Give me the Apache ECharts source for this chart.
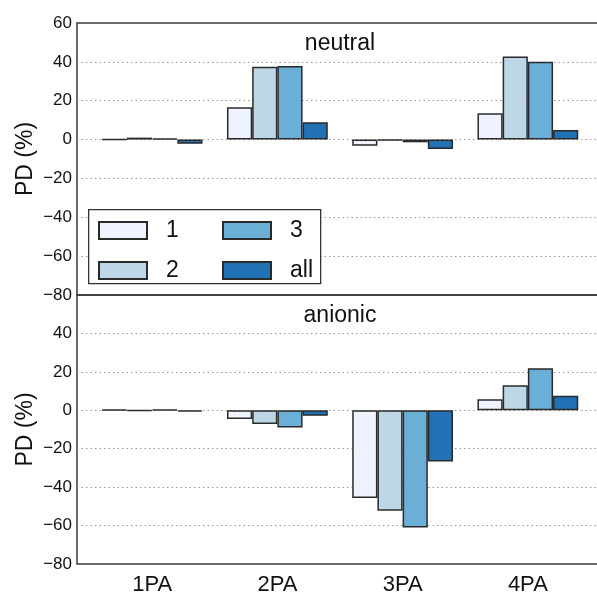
<!DOCTYPE html>
<html>
<head>
<meta charset="utf-8">
<script src="https://cdn.jsdelivr.net/npm/echarts@6/dist/echarts.min.js"></script>
<style>
html,body{margin:0;padding:0;overflow:hidden;background:#fff;}
#chart{width:680px;height:596px;}
</style>
</head>
<body>
<div id="chart"></div>
<script>
// ---- data ----
const categories = ['1PA', '2PA', '3PA', '4PA'];
const seriesNames = ['1', '2', '3', 'all'];
const panelTitles = ['neutral', 'anionic'];
const neutral1   = [0.1, 16.6, -3.2, 13.5];
const neutral2   = [1.0, 37.5, -0.4, 42.7];
const neutral3   = [0.5, 37.9, -1.4, 40.0];
const neutralAll = [-2.2, 8.9, -4.9, 4.9];
const anionic1   = [0.3, -4.6, -45.6, 5.8];
const anionic2   = [-0.3, -7.2, -52.3, 13.0];
const anionic3   = [0.3, -8.9, -61.0, 21.9];
const anionicAll = [-0.7, -2.9, -26.6, 7.6];
const yTicksMin = -80, yTicksMax = 60, yTickStep = 20;

// ---- styling ----
const colors = ['#eff3ff', '#bdd7e7', '#6baed6', '#2171b5'];
const FONT = "'Liberation Sans', Arial, sans-serif";
const TXT = '#111';
const panelData = [
  [neutral1, neutral2, neutral3, neutralAll],
  [anionic1, anionic2, anionic3, anionicAll]
];

const chart = echarts.init(document.getElementById('chart'), null, {renderer: 'canvas'});

const grids = [
  {left: 77, top: 23, width: 526, height: 272},
  {left: 77, top: 295, width: 526, height: 272}
].map(g => Object.assign(g, {show: true, borderColor: '#3a3a3a', borderWidth: 1.5, backgroundColor: 'transparent'}));

const xAxes = [0, 1].map(i => ({
  type: 'value', gridIndex: i, min: -0.6, max: 3.6,
  axisLine: {show: false}, axisTick: {show: false}, splitLine: {show: false},
  axisLabel: i === 1 ? {
    show: true, customValues: [0, 1, 2, 3],
    formatter: v => categories[Math.round(v)] || '',
    fontSize: 22, color: TXT, fontFamily: FONT, margin: 10
  } : {show: false}
}));

const yAxes = [0, 1].map(i => ({
  type: 'value', gridIndex: i, min: yTicksMin, max: yTicksMax, interval: yTickStep,
  name: 'PD (%)', nameLocation: 'middle', nameGap: 40, nameRotate: 90,
  nameMoveOverlap: false,
  nameTextStyle: {fontSize: 23, color: TXT, fontFamily: FONT},
  axisLine: {show: false}, axisTick: {show: false},
  axisLabel: {
    fontSize: 17, color: TXT, fontFamily: FONT, margin: 5,
    showMaxLabel: i === 0,
    formatter: v => (v < 0 ? '\u2212' + Math.abs(v) : String(v))
  },
  splitLine: {show: true, showMinLine: false, showMaxLine: false,
    lineStyle: {color: '#999', width: 1, type: [1.5, 3]}}
}));

const series = [];
for (let p = 0; p < 2; p++) {
  for (let s = 0; s < 4; s++) {
    series.push({
      type: 'bar', name: seriesNames[s],
      xAxisIndex: p, yAxisIndex: p,
      barWidth: 25.2, barGap: '0%',
      itemStyle: {color: colors[s], borderColor: '#2a2a2a', borderWidth: 1.5},
      data: panelData[p][s].map((v, k) => [k, v]),
      animation: false
    });
  }
}

const legendCommon = {
  orient: 'vertical', top: 219, itemWidth: 48, itemHeight: 17, itemGap: 17,
  padding: 0, z: 10, icon: 'rect',
  textStyle: {fontSize: 23, color: '#111', fontFamily: FONT, lineHeight: 17, padding: [0, 0, 0, 14]}
};

chart.setOption({
  animation: false,
  textStyle: {fontFamily: FONT},
  title: [
    {text: panelTitles[0], left: 'center', top: 27, textStyle: {fontSize: 23, fontWeight: 'normal', color: '#111', fontFamily: FONT}},
    {text: panelTitles[1], left: 'center', top: 299, textStyle: {fontSize: 23, fontWeight: 'normal', color: '#111', fontFamily: FONT}}
  ],
  grid: grids,
  xAxis: xAxes,
  yAxis: yAxes,
  legend: [
    Object.assign({}, legendCommon, {left: 98, data: ['1', '2']}),
    Object.assign({}, legendCommon, {left: 222, data: ['3', 'all']})
  ],
  graphic: [{
    type: 'rect', left: 88, top: 209, z: 8,
    shape: {width: 232, height: 74},
    style: {fill: '#fff', stroke: '#333', lineWidth: 1.3}
  }],
  series: series
});
</script>
</body>
</html>
